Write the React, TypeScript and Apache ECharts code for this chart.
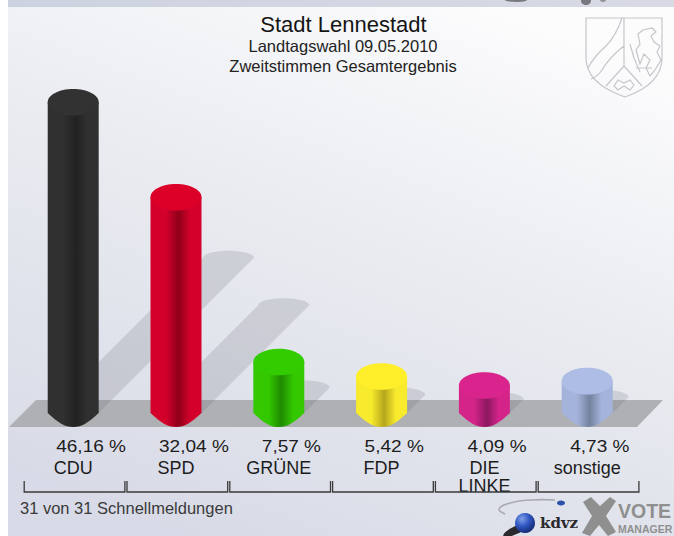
import React, { useEffect, useRef } from "react";
import * as echarts from "echarts";

const categories = ["CDU", "SPD", "GRÜNE", "FDP", "DIE\nLINKE", "sonstige"];
const shares = [46.16, 32.04, 7.57, 5.42, 4.09, 4.73];
const percentLabels = ["46,16 %", "32,04 %", "7,57 %", "5,42 %", "4,09 %", "4,73 %"];
const capColors = ["#323232", "#dc0029", "#33cc00", "#ffee2a", "#d8248c", "#aebde6"];
const edgeColors = ["#303030", "#d4002c", "#33c800", "#f8ea2c", "#d4248a", "#a4b3da"];
const midColors = ["#222222", "#8f0018", "#1f8a00", "#b5a61c", "#8c1860", "#74829f"];

const FONT = "'Liberation Sans', Arial, sans-serif";
const k = 0.5523;

const armsPath =
  "M586 18 L662 18 L662 58 C662 78 645 90 625 97 C605 90 586 78 586 58 Z " +
  "M624 18 L624 66 " +
  "M622 18 C618 30 614 38 606 46 C598 53 592 60 588 68 " +
  "M624 46 C616 52 608 60 602 70 C598 76 594 78 591 79 " +
  "M624 66 L606 86 M624 66 L642 86 " +
  "M618 80 L614 86 L618 90 L624 86 L630 90 L634 85 L630 80 L624 83 Z " +
  "M640 44 L638 34 L643 30 L652 28 L656 32 L651 36 L654 42 L660 46 L657 52 L661 60 L655 70 L650 76 L646 68 L650 60 L644 54 L640 64 L636 50 Z " +
  "M636 68 L652 68 M630 44 L634 58 L640 72";
echarts.graphic.registerShape("arms", echarts.graphic.extendPath(armsPath, {}));

echarts.graphic.registerShape(
  "cylBody",
  echarts.graphic.extendShape({
    shape: { cx: 0, top: 0, base: 0, rx: 0, drop: 0 },
    buildPath(ctx: any, s: any) {
      ctx.moveTo(s.cx - s.rx, s.top);
      ctx.lineTo(s.cx - s.rx, s.base);
      ctx.bezierCurveTo(s.cx - s.rx + 11, s.base + s.drop * 0.72, s.cx - 9, s.base + s.drop, s.cx, s.base + s.drop);
      ctx.bezierCurveTo(s.cx + 9, s.base + s.drop, s.cx + s.rx - 11, s.base + s.drop * 0.72, s.cx + s.rx, s.base);
      ctx.lineTo(s.cx + s.rx, s.top);
      ctx.closePath();
    },
  })
);

echarts.graphic.registerShape(
  "cylShadow",
  echarts.graphic.extendShape({
    shape: { cx: 0, base: 0, rx: 0, ry: 0, d: 0 },
    buildPath(ctx: any, s: any) {
      const y = s.base - s.d;
      const c = s.cx + s.d;
      ctx.moveTo(s.cx - s.rx, s.base);
      ctx.lineTo(c - s.rx, y);
      ctx.bezierCurveTo(c - s.rx, y - k * s.ry, c - k * s.rx, y - s.ry, c, y - s.ry);
      ctx.bezierCurveTo(c + k * s.rx, y - s.ry, c + s.rx, y - k * s.ry, c + s.rx, y);
      ctx.lineTo(s.cx + s.rx, s.base);
      ctx.closePath();
    },
  })
);

const renderCylinder = (params: any, api: any) => {
  const i = api.value(0);
  const [cx, top] = api.coord([i, api.value(1)]);
  const [, base] = api.coord([i, 0]);
  const band = api.size([1, 0])[0];
  const rx = band * 0.248;
  const h = base - top;
  const bodyFill = new echarts.graphic.LinearGradient(0, 0, 1, 0, [
    { offset: 0, color: edgeColors[i] },
    { offset: 0.3, color: edgeColors[i] },
    { offset: 0.55, color: midColors[i] },
    { offset: 0.78, color: edgeColors[i] },
    { offset: 1, color: edgeColors[i] },
  ]);
  return {
    type: "group",
    children: [
      {
        type: "cylShadow",
        shape: { cx, base, rx, ry: 7, d: h / 2 },
        style: { fill: "rgba(92,94,104,0.18)" },
      },
      {
        type: "cylBody",
        shape: { cx, top, base, rx, drop: 14 },
        style: { fill: bodyFill },
      },
      {
        type: "ellipse",
        shape: { cx, cy: top, rx, ry: 13.3 },
        style: { fill: capColors[i] },
      },
      {
        type: "text",
        x: cx - 17,
        y: 446,
        scaleX: 1.12,
        style: {
          text: percentLabels[i],
          fill: "#1c1c1c",
          font: `17px ${FONT}`,
          align: "left",
          verticalAlign: "middle",
        },
      },
      {
        type: "polyline",
        shape: {
          points: [
            [cx - 49, 481],
            [cx - 49, 492],
            [cx + 51.7, 492],
            [cx + 51.7, 481],
          ],
        },
        style: { stroke: "#3a3a3a", lineWidth: 1.3, fill: "none" },
      },
    ],
  };
};

export default function App() {
  const ref = useRef<HTMLDivElement>(null);
  useEffect(() => {
    const chart = echarts.init(ref.current!, undefined, { renderer: "svg" });
    const grey = "#8f8f8f";
    chart.setOption({
      animation: false,
      backgroundColor: "#ffffff",
      grid: { left: 21.8, width: 616.8, top: 76.5, height: 336.5 },
      xAxis: {
        type: "category",
        data: categories,
        axisLine: { show: false },
        axisTick: { show: false },
        axisLabel: {
          interval: 0,
          margin: 46,
          color: "#1c1c1c",
          fontFamily: FONT,
          fontSize: 18,
          lineHeight: 18,
          verticalAlign: "top",
        },
      },
      yAxis: { type: "value", min: 0, max: 50, show: false },
      graphic: [
        {
          type: "rect",
          z: -10,
          shape: { x: 8, y: 0, width: 666, height: 536 },
          style: {
            fill: new echarts.graphic.LinearGradient(0.72, 0, 0.25, 1, [
              { offset: 0, color: "#fcfcfd" },
              { offset: 0.45, color: "#e9ebf0" },
              { offset: 1, color: "#d8dbe7" },
            ]),
          },
        },
        {
          type: "rect",
          z: -9,
          shape: { x: 8, y: 0, width: 666, height: 7 },
          style: {
            fill: new echarts.graphic.LinearGradient(0, 0, 1, 0, [
              { offset: 0, color: "#cdd2e0" },
              { offset: 1, color: "#d8dbe4" },
            ]),
          },
        },
        { type: "ellipse", z: -8, shape: { cx: 516, cy: 0, rx: 11, ry: 2 }, style: { fill: "#77797f" } },
        { type: "ellipse", z: -8, shape: { cx: 586, cy: 1, rx: 5, ry: 4 }, style: { fill: "#77797f" } },
        { type: "ellipse", z: -8, shape: { cx: 603, cy: 0, rx: 3, ry: 2 }, style: { fill: "#8f9197" } },
        {
          type: "polygon",
          z: -7,
          shape: { points: [[36, 400], [663, 400], [637, 427], [9, 427]] },
          style: { fill: "#afb0b4" },
        },
        {
          type: "arms",
          z: -6,
          x: 0,
          y: 0,
          style: { fill: "none", stroke: "#c4c6ca", lineWidth: 1.2 },
        },
        {
          type: "text",
          x: 343.5,
          y: 24,
          style: { text: "Stadt Lennestadt", font: `22px ${FONT}`, fill: "#151515", align: "center", verticalAlign: "middle" },
        },
        {
          type: "text",
          x: 343,
          y: 46,
          style: { text: "Landtagswahl 09.05.2010", font: `16.5px ${FONT}`, fill: "#222222", align: "center", verticalAlign: "middle" },
        },
        {
          type: "text",
          x: 343,
          y: 66,
          style: { text: "Zweitstimmen Gesamtergebnis", font: `16.5px ${FONT}`, fill: "#222222", align: "center", verticalAlign: "middle" },
        },
        {
          type: "text",
          x: 20,
          y: 508,
          style: { text: "31 von 31 Schnellmeldungen", font: `16.5px ${FONT}`, fill: "#3a3a3a", align: "left", verticalAlign: "middle" },
        },
        {
          type: "polyline",
          shape: { points: [[555, 500], [530, 500], [510, 503], [499, 509], [505, 514]], smooth: 0.5 },
          style: { stroke: "#a9abb0", lineWidth: 1.6, fill: "none" },
        },
        { type: "ellipse", shape: { cx: 561, cy: 503, rx: 4, ry: 2.5 }, style: { fill: "#2c4fa8" } },
        { type: "ellipse", rotation: 0.45, x: 516, y: 530, shape: { cx: 0, cy: 0, rx: 14, ry: 4 }, style: { fill: "#2a2a2e" } },
        {
          type: "circle",
          shape: { cx: 525, cy: 523, r: 10 },
          style: {
            fill: new echarts.graphic.RadialGradient(0.35, 0.3, 0.75, [
              { offset: 0, color: "#7f9fe8" },
              { offset: 0.5, color: "#2f55c0" },
              { offset: 1, color: "#13286e" },
            ]),
          },
        },
        {
          type: "text",
          x: 540,
          y: 523,
          style: { text: "kdvz", font: `bold 15px 'DejaVu Serif', serif`, fill: "#2a2a2e", align: "left", verticalAlign: "middle" },
        },
        {
          type: "polygon",
          shape: {
            points: [
              [583, 502], [591, 497], [600, 506], [610, 497], [616, 501], [606, 516],
              [616, 532], [608, 536], [599, 525], [590, 536], [582, 533], [592, 516],
            ],
          },
          style: { fill: grey },
        },
        {
          type: "text",
          x: 618,
          y: 510.5,
          style: { text: "VOTE", font: `bold 19.5px ${FONT}`, fill: grey, align: "left", verticalAlign: "middle" },
        },
        {
          type: "text",
          x: 618,
          y: 528.5,
          style: { text: "MANAGER", font: `bold 10.5px ${FONT}`, fill: grey, align: "left", verticalAlign: "middle" },
        },
      ],
      series: [
        {
          type: "custom",
          renderItem: renderCylinder,
          encode: { x: 0, y: 1 },
          data: shares.map((v, i) => [i, v]),
          clip: false,
        },
      ],
    });
    return () => chart.dispose();
  }, []);
  return <div ref={ref} style={{ position: "fixed", left: 0, top: 0, width: 674, height: 536 }} />;
}
